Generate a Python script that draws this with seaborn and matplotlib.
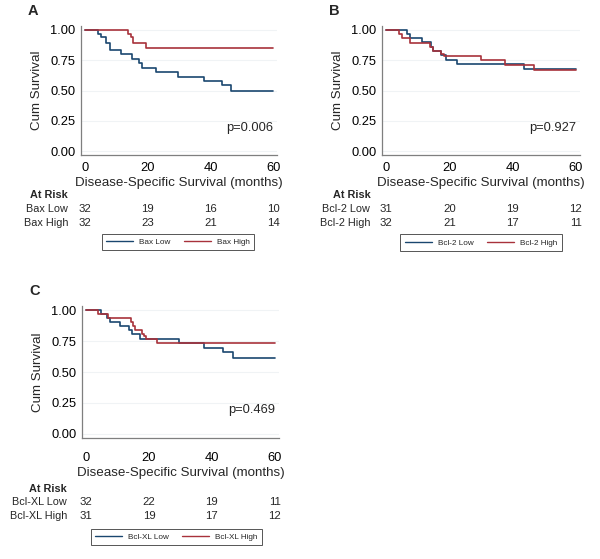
# Kaplan-Meier curves for Bax, Bcl-2 and Bcl-XL, with at-risk tables
import numpy as np
import pandas as pd
import seaborn as sns
import matplotlib.pyplot as plt
from matplotlib.lines import Line2D

# step times (months) and survival
bax_low_t = [0, 4.1, 5.0, 6.8, 7.8, 11.4, 14.9, 17.2, 18.3, 22.6, 29.8, 37.8, 43.8, 46.6, 60]
bax_low_s = [1.0, 0.969, 0.938, 0.896, 0.833, 0.800, 0.762, 0.727, 0.686, 0.650, 0.615, 0.578, 0.542, 0.500, 0.500]
bax_high_t = [0, 13.8, 14.6, 15.4, 19.4, 60]
bax_high_s = [1.0, 0.969, 0.938, 0.891, 0.855, 0.855]

bcl2_low_t = [0, 6.5, 7.6, 11.2, 14.1, 14.9, 17.2, 18.8, 22.5, 43.6, 60]
bcl2_low_s = [1.0, 0.968, 0.935, 0.900, 0.860, 0.826, 0.790, 0.755, 0.717, 0.677, 0.677]
bcl2_high_t = [0, 4.0, 5.1, 7.7, 13.8, 14.7, 17.5, 18.3, 29.9, 37.7, 46.6, 60]
bcl2_high_s = [1.0, 0.969, 0.937, 0.891, 0.859, 0.826, 0.800, 0.785, 0.749, 0.712, 0.667, 0.667]

bclxl_low_t = [0, 4.8, 6.5, 7.6, 10.9, 13.6, 14.6, 17.3, 29.7, 37.6, 43.7, 46.6, 60]
bclxl_low_s = [1.0, 0.969, 0.938, 0.906, 0.875, 0.840, 0.810, 0.767, 0.733, 0.697, 0.660, 0.617, 0.617]
bclxl_high_t = [0, 3.9, 7.0, 14.3, 14.9, 15.4, 17.7, 18.5, 19.2, 22.5, 60]
bclxl_high_s = [1.0, 0.968, 0.935, 0.903, 0.871, 0.839, 0.806, 0.790, 0.767, 0.731, 0.731]

# at-risk counts at 0, 20, 40, 60 months
risk_times = [0, 20, 40, 60]
bax_risk = [[32, 19, 16, 10], [32, 23, 21, 14]]
bcl2_risk = [[31, 20, 19, 12], [32, 21, 17, 11]]
bclxl_risk = [[32, 22, 19, 11], [31, 19, 17, 12]]

p_values = ["p=0.006", "p=0.927", "p=0.469"]
panel_letters = ["A", "B", "C"]

blue = "#1A476F"
red = "#A8323B"
grey = "#7F7F7F"

sns.set_style("white")
plt.rcParams['font.family'] = ['Liberation Sans', 'DejaVu Sans']

fig = plt.figure(figsize=(6.0, 5.59), dpi=100)

# axes placement in figure fractions (left, bottom, width, height)
ax_pos = [
    [0.135, 0.7227, 0.327, 0.2308],
    [0.6367, 0.7227, 0.330, 0.2308],
    [0.1367, 0.2165, 0.328, 0.2360],
]

panels = [
    ("Bax", bax_low_t, bax_low_s, bax_high_t, bax_high_s, bax_risk),
    ("Bcl-2", bcl2_low_t, bcl2_low_s, bcl2_high_t, bcl2_high_s, bcl2_risk),
    ("Bcl-XL", bclxl_low_t, bclxl_low_s, bclxl_high_t, bclxl_high_s, bclxl_risk),
]

# row positions of the at-risk table (axes fraction), per panel
risk_rows = [(-0.31, -0.419, -0.527), (-0.31, -0.419, -0.527), (-0.386, -0.488, -0.594)]
legend_y = [-0.674, -0.680, -0.750]
legend_x = [0.495, 0.50, 0.48]
label_x = [-5.4, -5.0, -6.0]
xtick_pad = [2.0, 2.0, 7.0]

for i, (name, lt, ls, ht, hs, risk) in enumerate(panels):
    ax = fig.add_axes(ax_pos[i])
    lo_name = name + " Low"
    hi_name = name + " High"
    df = pd.DataFrame({
        "time": lt + ht,
        "surv": ls + hs,
        "group": [lo_name] * len(lt) + [hi_name] * len(ht),
    })
    sns.lineplot(data=df, x="time", y="surv", hue="group", hue_order=[lo_name, hi_name],
                 palette=[blue, red], drawstyle="steps-post", estimator=None,
                 linewidth=1.2, legend=False, ax=ax)

    ax.set_xlim(-1.3, 61.3)
    ax.set_ylim(-0.033, 1.033)
    ax.set_xticks([0, 20, 40, 60])
    ax.set_yticks([0, 0.25, 0.5, 0.75, 1.0])
    ax.set_yticklabels(["0.00", "0.25", "0.50", "0.75", "1.00"])
    ax.yaxis.grid(True, color="#F0F3F5", linewidth=0.8)
    ax.set_axisbelow(True)

    for side in ["top", "right"]:
        ax.spines[side].set_visible(False)
    for side in ["left", "bottom"]:
        ax.spines[side].set_color(grey)
        ax.spines[side].set_linewidth(0.9)
    ax.tick_params(axis="both", direction="out", length=3.0, width=0.8, color=grey,
                   labelsize=9.3, labelcolor="black")
    ax.tick_params(axis="x", pad=xtick_pad[i])
    ax.tick_params(axis="y", pad=1.0)

    ax.set_xlabel("Disease-Specific Survival (months)", fontsize=9.6, labelpad=2)
    ax.set_ylabel("Cum Survival", fontsize=9.6, labelpad=5)

    ax.text(60, 0.19, p_values[i], fontsize=9.3, ha="right", va="center")
    ax.text(-0.27, 1.115, panel_letters[i], transform=ax.transAxes,
            fontsize=10.5, fontweight="bold", ha="left", va="center")

    # at-risk table under the x axis
    trans = ax.get_xaxis_transform()
    r0, r1, r2 = risk_rows[i]
    ax.text(label_x[i], r0, "At Risk", transform=trans, fontsize=7.8,
            fontweight="bold", ha="right", va="center")
    ax.text(label_x[i], r1, lo_name, transform=trans, fontsize=7.8, ha="right", va="center")
    ax.text(label_x[i], r2, hi_name, transform=trans, fontsize=7.8, ha="right", va="center")
    for t, n_lo, n_hi in zip(risk_times, risk[0], risk[1]):
        ax.text(t, r1, str(n_lo), transform=trans, fontsize=8.2, ha="center", va="center")
        ax.text(t, r2, str(n_hi), transform=trans, fontsize=8.2, ha="center", va="center")

    handles = [Line2D([], [], color=blue, linewidth=1.0),
               Line2D([], [], color=red, linewidth=1.0)]
    leg = ax.legend(handles, [lo_name, hi_name], loc="center",
                    bbox_to_anchor=(legend_x[i], legend_y[i]), ncol=2, fontsize=5.9,
                    frameon=True, fancybox=False, framealpha=1, edgecolor="#555555",
                    handlelength=3.3, handletextpad=0.75, columnspacing=1.6,
                    borderpad=0.55)
    leg.get_frame().set_linewidth(0.7)

fig.savefig("out.png", dpi=100)
